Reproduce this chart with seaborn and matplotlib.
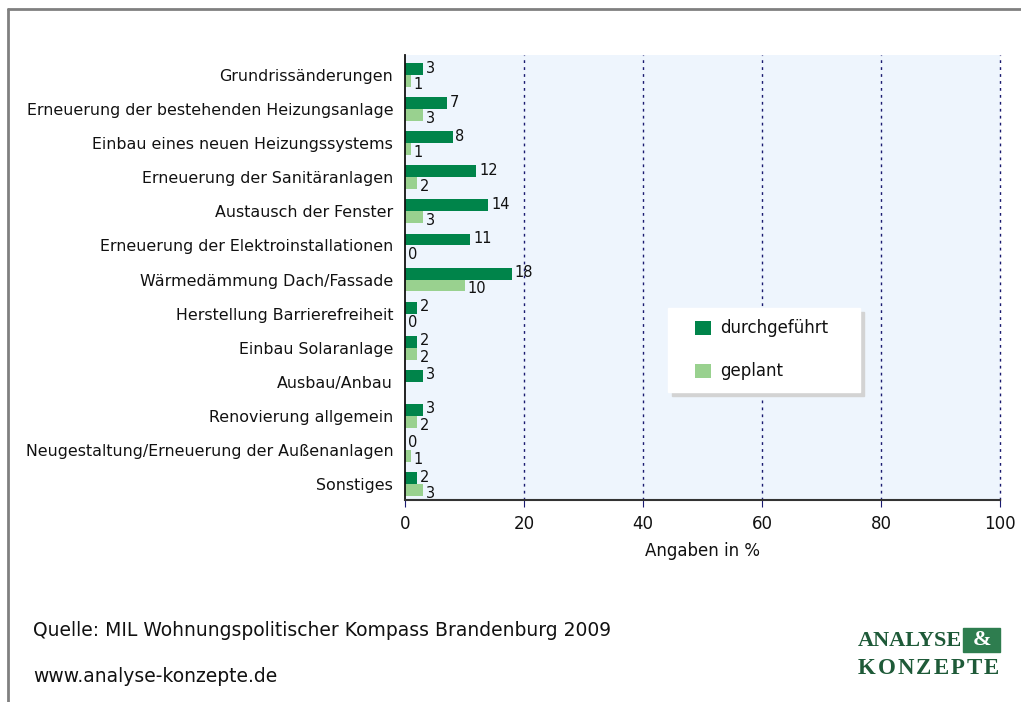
import numpy as np
import pandas as pd
import seaborn as sns
import matplotlib.pyplot as plt
from matplotlib.lines import Line2D
from matplotlib.patches import Rectangle

# data
massnahmen = [
    "Grundrissänderungen",
    "Erneuerung der bestehenden Heizungsanlage",
    "Einbau eines neuen Heizungssystems",
    "Erneuerung der Sanitäranlagen",
    "Austausch der Fenster",
    "Erneuerung der Elektroinstallationen",
    "Wärmedämmung Dach/Fassade",
    "Herstellung Barrierefreiheit",
    "Einbau Solaranlage",
    "Ausbau/Anbau",
    "Renovierung allgemein",
    "Neugestaltung/Erneuerung der Außenanlagen",
    "Sonstiges",
]
durchgefuehrt = [3, 7, 8, 12, 14, 11, 18, 2, 2, 3, 3, 0, 2]
geplant = [1, 3, 1, 2, 3, 0, 10, 0, 2, np.nan, 2, 1, 3]

df = pd.DataFrame({
    "Maßnahme": massnahmen * 2,
    "Wert": durchgefuehrt + geplant,
    "Status": ["durchgeführt"] * len(massnahmen) + ["geplant"] * len(massnahmen),
})
df = df.dropna()

sns.set_style("white")
plt.rcParams['font.family'] = ['DejaVu Sans']

W, H = 1021, 702
fig = plt.figure(figsize=(W / 100, H / 100), dpi=100)
ax = fig.add_axes([0.3967, 0.2877, 0.5827, 0.634])
ax.set_facecolor("#EEF5FD")

sns.barplot(data=df, y="Maßnahme", x="Wert", hue="Status", order=massnahmen,
            hue_order=["durchgeführt", "geplant"], orient="h",
            palette=["#00844A", "#99D18F"], width=0.7, errorbar=None,
            saturation=1, linewidth=0, ax=ax)

# value labels
for i, cont in enumerate(ax.containers):
    dy = -0.03 if i == 0 else 0.1
    for bar in cont:
        w = bar.get_width()
        if np.isnan(w):
            continue
        yc = bar.get_y() + bar.get_height() / 2 + dy
        ax.text(w + 0.45, yc, f"{w:.0f}", va="center", ha="left",
                fontsize=10.5, color="#111111")

ax.set_xlim(0, 100)
ax.set_ylim(len(massnahmen) - 0.53, -0.59)
ax.set_xticks([0, 20, 40, 60, 80, 100])
for x in [20, 40, 60, 80, 100]:
    ax.axvline(x, color="#1A1A70", linestyle=(0, (2, 3)), linewidth=1,
               zorder=0, clip_on=False)

for s in ["top", "right"]:
    ax.spines[s].set_visible(False)
ax.spines["left"].set_color("#111111")
ax.spines["bottom"].set_color("#333333")
ax.spines["left"].set_linewidth(1.3)
ax.spines["bottom"].set_linewidth(1.5)
ax.tick_params(axis="x", which="both", bottom=True, length=5, color="#1A1A70",
               labelsize=12, pad=6, labelcolor="#111111")
ax.tick_params(axis="y", left=False, labelsize=11.4, pad=5, labelcolor="#111111")
ax.set_xlabel("Angaben in %", fontsize=12, color="#111111", labelpad=6)
ax.set_ylabel("")

# legend box with shadow, legend itself without frame
ax.add_patch(Rectangle((672 / W, 1 - 396 / H), 192 / W, 84 / H,
                       transform=fig.transFigure, color="#D3D3D3",
                       zorder=5, clip_on=False))
ax.add_patch(Rectangle((668 / W, 1 - 392 / H), 192 / W, 84 / H,
                       transform=fig.transFigure, color="white",
                       zorder=6, clip_on=False))
leg = ax.legend(loc="upper left", bbox_to_anchor=(695 / W, 1 - 319.5 / H),
                bbox_transform=fig.transFigure, frameon=False,
                fontsize=12, handlelength=0.95, handleheight=0.95,
                borderpad=0, labelspacing=1.5, handletextpad=0.55,
                borderaxespad=0)
leg.set_zorder(7)
for t in leg.get_texts():
    t.set_color("#111111")
for h in leg.legend_handles:
    h.set_linewidth(0)

# outer frame
fig.add_artist(Line2D([8 / W, 1], [1 - 9 / H] * 2, color="#808080", lw=2))
fig.add_artist(Line2D([8 / W] * 2, [1 - 9 / H, 0], color="#808080", lw=2))

# footer
fig.text(33 / W, 1 - 631 / H, "Quelle: MIL Wohnungspolitischer Kompass Brandenburg 2009",
         fontsize=13.5, va="center", color="#111111")
fig.text(33 / W, 1 - 676 / H, "www.analyse-konzepte.de",
         fontsize=13.5, va="center", color="#111111")

# logo
logo_c = "#1E5A38"
fig.text(858 / W, 1 - 641 / H, "ANALYSE", family="Liberation Serif",
         weight="bold", fontsize=16, color=logo_c, va="center")
renderer = fig.canvas.get_renderer()
xpos = 858
for ch in "KONZEPTE":
    t = fig.text(xpos / W, 1 - 669 / H, ch, family="Liberation Serif",
                 weight="bold", fontsize=16.5, color=logo_c, va="center")
    xpos += t.get_window_extent(renderer).width + 2.0
fig.add_artist(Rectangle((963 / W, 1 - 652 / H), 37 / W, 24 / H,
                         transform=fig.transFigure, color="#2E7D4F"))
fig.text(981.5 / W, 1 - 640 / H, "&", family="Liberation Serif",
         weight="bold", fontsize=16, color="white", va="center", ha="center")

fig.savefig("out.png", dpi=100)
